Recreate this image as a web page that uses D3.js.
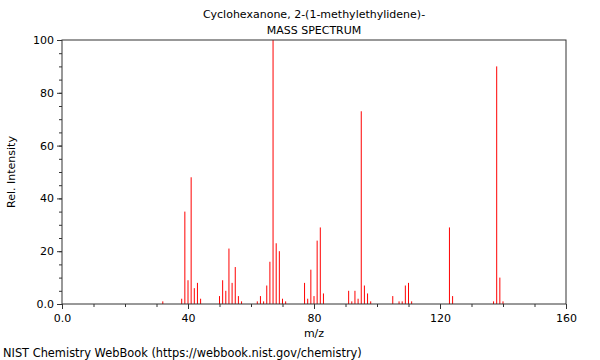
<!DOCTYPE html>
<html>
<head>
<meta charset="utf-8">
<script src="https://cdn.jsdelivr.net/npm/d3@7"></script>
<style>
  body { margin: 0; background: #fff; }
  text { font-family: "DejaVu Sans", sans-serif; }
</style>
</head>
<body>
<div id="graph"></div>
<script>
// peaks
const mz = [32, 38, 39, 40, 41, 42, 43, 44, 50, 51, 52, 53, 54, 55, 56, 57,
  62, 63, 64, 65, 66, 67, 68, 69, 70, 71, 77, 78, 79, 80, 81, 82, 83,
  91, 92, 93, 94, 95, 96, 97, 98, 105, 107, 108, 109, 110, 111,
  123, 124, 137, 138, 139, 140];
const intensity = [1, 2, 35, 9, 48, 6, 8, 2, 3, 9, 5, 21, 8, 14, 3, 1,
  1, 3, 1, 7, 16, 100, 23, 20, 2, 1, 8, 2, 13, 3, 24, 29, 4,
  5, 1, 5, 2, 73, 7, 4, 1, 3, 1, 1, 7, 8, 1,
  29, 3, 1, 90, 10, 1];
const xTicks = [0, 40, 80, 120, 160];
const xTickLabels = ["0.0", "40", "80", "120", "160"];
const yTicks = [0, 20, 40, 60, 80, 100];
const yTickLabels = ["0.0", "20", "40", "60", "80", "100"];

const w = 600, h = 360;
const margin = {top: 40, right: 34, bottom: 56, left: 62};

const svg = d3.select("#graph").append("svg")
  .attr("width", w).attr("height", h);

const x = d3.scaleLinear().domain([0, 160]).range([margin.left, w - margin.right]);
const y = d3.scaleLinear().domain([0, 100]).range([h - margin.bottom, margin.top]);

// peaks
svg.append("g").selectAll("line")
  .data(mz)
  .enter()
  .append("line")
  .attr("x1", d => x(d))
  .attr("x2", d => x(d))
  .attr("y1", y(0))
  .attr("y2", (d, i) => y(intensity[i]))
  .attr("stroke", "#ff0000")
  .attr("stroke-width", 1);

// frame
svg.append("rect")
  .attr("x", x(0)).attr("y", y(100))
  .attr("width", x(160) - x(0)).attr("height", y(0) - y(100))
  .attr("fill", "none").attr("stroke", "#333");

// minor + major ticks
const gx = svg.append("g").attr("transform", `translate(0,${y(0)})`);
gx.call(d3.axisBottom(x).tickValues(d3.range(0, 161, 10)).tickSize(3).tickFormat(""));
const gx2 = svg.append("g").attr("transform", `translate(0,${y(0)})`);
gx2.call(d3.axisBottom(x).tickValues(xTicks).tickSize(5).tickPadding(5)
  .tickFormat((d, i) => xTickLabels[i]));

const gy = svg.append("g").attr("transform", `translate(${x(0)},0)`);
gy.call(d3.axisLeft(y).tickValues(d3.range(0, 101, 5)).tickSize(3).tickFormat(""));
const gy2 = svg.append("g").attr("transform", `translate(${x(0)},0)`);
gy2.call(d3.axisLeft(y).tickValues(yTicks).tickSize(5).tickPadding(3)
  .tickFormat((d, i) => yTickLabels[i]));

svg.selectAll(".domain").remove();
svg.selectAll(".tick line").attr("stroke", "#333");
svg.selectAll(".tick text")
  .style("font-family", '"DejaVu Sans", sans-serif')
  .style("font-size", "11px")
  .attr("fill", "#000");

// titles
svg.append("text")
  .attr("x", (x(0) + x(160)) / 2).attr("y", 18)
  .attr("text-anchor", "middle")
  .style("font-size", "11px")
  .text("Cyclohexanone, 2-(1-methylethylidene)-");
svg.append("text")
  .attr("x", (x(0) + x(160)) / 2).attr("y", 34)
  .attr("text-anchor", "middle")
  .style("font-size", "11px")
  .text("MASS SPECTRUM");

svg.append("text")
  .attr("x", (x(0) + x(160)) / 2).attr("y", 337)
  .attr("text-anchor", "middle")
  .style("font-size", "11px")
  .text("m/z");

svg.append("text")
  .attr("transform", `translate(15,${(y(0) + y(100)) / 2}) rotate(-90)`)
  .attr("text-anchor", "middle")
  .style("font-size", "11px")
  .text("Rel. Intensity");

svg.append("text")
  .attr("x", 3).attr("y", 357)
  .style("font-size", "11.4px")
  .text("NIST Chemistry WebBook (https://webbook.nist.gov/chemistry)");
</script>
</body>
</html>
